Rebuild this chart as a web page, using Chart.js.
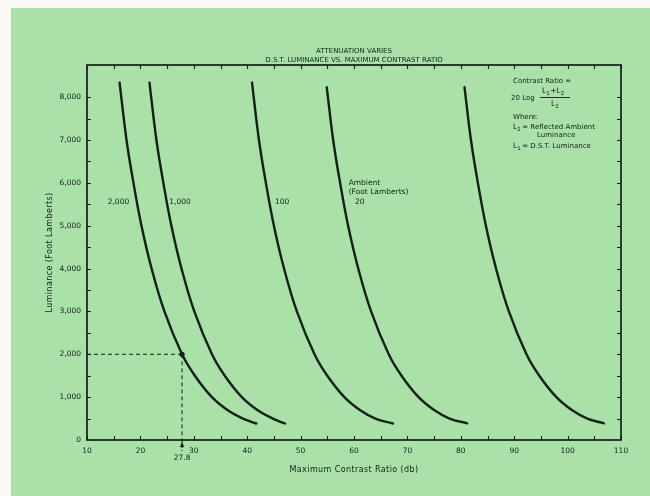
<!DOCTYPE html>
<html><head><meta charset="utf-8">
<script src="https://cdn.jsdelivr.net/npm/chart.js@4/dist/chart.umd.min.js"></script>
<style>
html,body{margin:0;padding:0;background:#fbfbf6;}
#wrap{position:absolute;left:0;top:0;width:650px;height:496px;}
</style></head><body>
<div id="wrap"><canvas id="c" width="650" height="496"></canvas></div>
<script>
// ---- data ----
const lumLeft  = [8340, 7000, 6000, 5000, 4000, 3000, 2000, 1500, 1000, 700, 500, 385];
const lumRight = [8230, 7000, 6000, 5000, 4000, 3000, 2000, 1500, 1000, 700, 500, 390];
const ambient2000 = [16.1, 17.4, 18.7, 20.2, 22.1, 24.5, 27.8, 30.2, 33.4, 36.3, 39.2, 41.7];
const ambient1000 = [21.7, 23.0, 24.3, 25.8, 27.7, 30.1, 33.4, 35.8, 39.0, 41.9, 44.8, 47.1];
const ambient100  = [40.9, 42.2, 43.5, 45.0, 46.9, 49.3, 52.6, 55.0, 58.2, 61.1, 64.0, 67.3];
const ambient20   = [54.9, 56.1, 57.4, 58.9, 60.8, 63.2, 66.5, 68.9, 72.1, 75.0, 77.9, 81.2];
const ambientLow  = [80.7, 81.9, 83.2, 84.7, 86.6, 89.0, 92.3, 94.7, 97.9, 100.8, 103.7, 106.8];
const markX = 27.8, markY = 2000;
const xTickValues = [10,20,30,40,50,60,70,80,90,100,110];
const yTickValues = [0,1000,2000,3000,4000,5000,6000,7000,8000];
const xMinor = [10,15,20,25,30,35,40,45,50,55,60,65,70,75,80,85,90,95,100,105,110];
const yMinor = [500,1000,1500,2000,2500,3000,3500,4000,4500,5000,5500,6000,6500,7000,7500,8000];
const curveLabels = [
  {t:'2,000', x:17.9, y:5550, a:'right'},
  {t:'1,000', x:25.4, y:5550, a:'left'},
  {t:'100',   x:45.2, y:5550, a:'left'},
  {t:'20',    x:60.2, y:5550, a:'left'}
];

const ink = '#122017';
const FONT = '"DejaVu Sans", sans-serif';

function pts(xs, ys){ return xs.map((v,i)=>({x:v, y:ys[i]})); }
function curve(xs, ys){
  return {data: pts(xs, ys), showLine:true, borderColor:ink, borderWidth:2.4,
          pointRadius:0, tension:0.4, fill:false, borderCapStyle:'round'};
}

function subText(ctx, parts, x, y, size){
  let cx = x;
  for (const [t, s] of parts){
    ctx.font = (s ? size*0.75 : size) + 'px ' + FONT;
    ctx.fillText(t, cx, y + (s ? size*0.3 : 0));
    cx += ctx.measureText(t).width + (s?0.5:0);
  }
  return cx - x;
}

const framePlugin = {
  id:'frame',
  beforeDraw(chart){
    const ctx = chart.ctx;
    ctx.save();
    ctx.fillStyle = '#fbfbf6';
    ctx.fillRect(0,0,chart.width,chart.height);
    ctx.fillStyle = '#a9e1a8';
    ctx.fillRect(11,8,chart.width-11,chart.height-8);
    ctx.restore();
  },
  afterDraw(chart){
    const {ctx, chartArea:a} = chart;
    const xs = chart.scales.x, ys = chart.scales.y;
    ctx.save();
    ctx.strokeStyle = ink; ctx.fillStyle = ink;
    ctx.lineWidth = 1.7;
    ctx.strokeRect(a.left, a.top, a.right-a.left, a.bottom-a.top);
    ctx.lineWidth = 1.1;
    const tl = 4;
    ctx.beginPath();
    for (const v of xMinor){
      const p = Math.round(xs.getPixelForValue(v))+0.5;
      ctx.moveTo(p, a.bottom); ctx.lineTo(p, a.bottom-tl);
      ctx.moveTo(p, a.top); ctx.lineTo(p, a.top+tl);
    }
    for (const v of yMinor){
      const p = Math.round(ys.getPixelForValue(v))+0.5;
      ctx.moveTo(a.left, p); ctx.lineTo(a.left+tl, p);
      ctx.moveTo(a.right, p); ctx.lineTo(a.right-tl, p);
    }
    ctx.stroke();

    // arrow under axis at the marked value
    const mx = xs.getPixelForValue(markX);
    ctx.setLineDash([3,2]);
    ctx.beginPath(); ctx.moveTo(mx, a.bottom); ctx.lineTo(mx, a.bottom+11); ctx.stroke();
    ctx.setLineDash([]);
    ctx.beginPath();
    ctx.moveTo(mx, a.bottom+2); ctx.lineTo(mx-2.2, a.bottom+7); ctx.lineTo(mx+2.2, a.bottom+7); ctx.closePath(); ctx.fill();
    ctx.font = '7.5px ' + FONT; ctx.textAlign='center'; ctx.textBaseline='middle';
    ctx.fillText(String(markX), mx, a.bottom+18);

    // titles
    const cx = (a.left+a.right)/2;
    ctx.font = '7px ' + FONT;
    ctx.fillText('ATTENUATION VARIES', cx, 51);
    ctx.fillText('D.S.T. LUMINANCE VS. MAXIMUM CONTRAST RATIO', cx, 60);
    ctx.font = '8px ' + FONT;
    ctx.letterSpacing = '0.4px';
    ctx.fillText('Maximum Contrast Ratio (db)', cx, 470);
    ctx.save();
    ctx.translate(50, (a.top+a.bottom)/2);
    ctx.rotate(-Math.PI/2);
    ctx.fillText('Luminance (Foot Lamberts)', 0, 0);
    ctx.restore();
    ctx.letterSpacing = '0px';

    // curve labels
    ctx.font = '7.5px ' + FONT;
    for (const L of curveLabels){
      ctx.textAlign = L.a;
      ctx.fillText(L.t, xs.getPixelForValue(L.x), ys.getPixelForValue(L.y));
    }
    ctx.textAlign = 'left';
    const ax = xs.getPixelForValue(59.0);
    ctx.fillText('Ambient', ax, ys.getPixelForValue(6000));
    ctx.fillText('(Foot Lamberts)', ax, ys.getPixelForValue(5780));

    // formula box
    ctx.textAlign='left';
    const fx = 513;
    ctx.font = '7px ' + FONT;
    ctx.fillText('Contrast Ratio =', fx, 81);
    ctx.fillText('20 Log', fx-2, 98);
    subText(ctx, [['L',0],['1',1],['+L',0],['2',1]], 542, 91, 7.5);
    ctx.lineWidth = 0.9;
    ctx.beginPath(); ctx.moveTo(540, 97.5); ctx.lineTo(570, 97.5); ctx.stroke();
    subText(ctx, [['L',0],['2',1]], 551, 104, 7.5);
    ctx.font = '7px ' + FONT;
    ctx.fillText('Where:', fx, 117);
    const w1 = subText(ctx, [['L',0],['2',1]], fx, 127, 7.5);
    ctx.font = '7px ' + FONT;
    ctx.fillText('= Reflected Ambient', fx+w1+1, 127);
    ctx.fillText('Luminance', fx+24, 135.5);
    const w2 = subText(ctx, [['L',0],['1',1]], fx, 146, 7.5);
    ctx.font = '7px ' + FONT;
    ctx.fillText('= D.S.T. Luminance', fx+w2+1, 146);
    ctx.restore();
  }
};

new Chart(document.getElementById('c'), {
  type:'scatter',
  data:{datasets:[
    curve(ambient2000, lumLeft),
    curve(ambient1000, lumLeft),
    curve(ambient100, lumLeft),
    curve(ambient20, lumRight),
    curve(ambientLow, lumRight),
    {data:[{x:10,y:markY},{x:markX,y:markY}], showLine:true, borderColor:ink, borderWidth:1, borderDash:[4,3], pointRadius:0},
    {data:[{x:markX,y:markY},{x:markX,y:0}], showLine:true, borderColor:ink, borderWidth:1, borderDash:[4,3], pointRadius:0},
    {data:[{x:markX,y:markY}], showLine:false, pointRadius:2.6, pointBackgroundColor:ink, pointBorderWidth:0}
  ]},
  options:{
    responsive:false, animation:false, devicePixelRatio:1,
    layout:{padding:{top:65, right:29, left:0, bottom:0}},
    plugins:{legend:{display:false}, tooltip:{enabled:false}, title:{display:false}},
    scales:{
      x:{type:'linear', min:10, max:110,
         afterBuildTicks(s){ s.ticks = xTickValues.map(v=>({value:v})); },
         afterFit(s){ s.height = 56; },
         grid:{display:false, drawTicks:false}, border:{display:false},
         ticks:{padding:7, color:ink, font:{family:FONT, size:7.5}, maxRotation:0, autoSkip:false,
                callback:v=>String(v)}},
      y:{type:'linear', min:0, max:8750,
         afterBuildTicks(s){ s.ticks = yTickValues.map(v=>({value:v})); },
         afterFit(s){ s.width = 87; },
         grid:{display:false, drawTicks:false}, border:{display:false},
         ticks:{padding:6, color:ink, font:{family:FONT, size:7.5}, autoSkip:false,
                callback:v=>v.toLocaleString('en-US')}}
    }
  },
  plugins:[framePlugin]
});
</script>
</body></html>
